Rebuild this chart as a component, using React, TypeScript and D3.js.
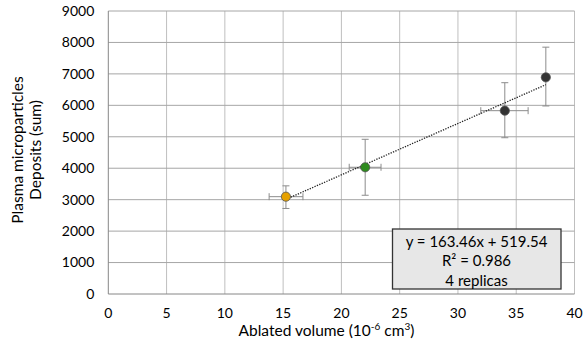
import React from "react";
import * as d3 from "d3";

const xTicks = [0, 5, 10, 15, 20, 25, 30, 35, 40];
const yTicks = [0, 1000, 2000, 3000, 4000, 5000, 6000, 7000, 8000, 9000];

const volumes = [15.24, 22.04, 34.02, 37.54];
const deposits = [3095, 4030, 5830, 6890];
const yErrLow = [2720, 3140, 4970, 5980];
const yErrHigh = [3440, 4920, 6720, 7850];
const xErrLow = [13.8, 20.67, 31.96, 37.54];
const xErrHigh = [16.7, 23.4, 36.02, 37.54];
const pointColors = ["#e6a100", "#2e8b1e", "#333333", "#333333"];

const slope = 163.46;
const intercept = 519.54;
const boxLines = ["y = 163.46x + 519.54", "R² = 0.986", "4 replicas"];

const W = 588;
const H = 341;
const M = { left: 108.3, right: 574.5, top: 11, bottom: 294 };
const FONT = "Lato, 'Open Sans', sans-serif";

export default function App() {
  const x = d3.scaleLinear().domain([0, 40]).range([M.left, M.right]);
  const y = d3.scaleLinear().domain([0, 9000]).range([M.bottom, M.top]);
  const x0 = volumes[0];
  const x1 = volumes[volumes.length - 1];
  const line = d3.line<number>().x((v) => x(v)).y((v) => y(slope * v + intercept));
  const cap = 3.5;

  return (
    <svg width={W} height={H} style={{ position: "absolute", left: 0, top: 0, background: "#fff" }}>
      {/* gridlines */}
      {xTicks.slice(1).map((t) => (
        <line key={"gx" + t} x1={x(t)} x2={x(t)} y1={M.top} y2={M.bottom} stroke="#bfbfbf" strokeWidth={1} />
      ))}
      {yTicks.slice(1).map((t) => (
        <line key={"gy" + t} x1={M.left} x2={M.right} y1={y(t)} y2={y(t)} stroke="#a6a6a6" strokeWidth={1} />
      ))}
      {/* axes */}
      <line x1={M.left} x2={M.left} y1={M.top} y2={M.bottom} stroke="#868686" strokeWidth={1} />
      <line x1={M.left} x2={M.right} y1={M.bottom} y2={M.bottom} stroke="#868686" strokeWidth={1} />
      {/* tick labels */}
      {yTicks.map((t) => (
        <text key={"ty" + t} x={M.left - 14} y={y(t)} dy="0.35em" textAnchor="end" fontFamily={FONT} fontSize={14} fill="#000">
          {t}
        </text>
      ))}
      {xTicks.map((t) => (
        <text key={"tx" + t} x={x(t)} y={M.bottom + 24} textAnchor="middle" fontFamily={FONT} fontSize={14} fill="#000">
          {t}
        </text>
      ))}
      {/* axis titles */}
      <text x={326.5} y={336} textAnchor="middle" fontFamily={FONT} fontSize={15.5} fill="#000">
        Ablated volume (10
        <tspan dy={-6} fontSize={10}>-6</tspan>
        <tspan dy={6}> cm</tspan>
        <tspan dy={-6} fontSize={10}>3</tspan>
        <tspan dy={6}>)</tspan>
      </text>
      <g transform="translate(23,150) rotate(-90)">
        <text x={0} y={0} textAnchor="middle" fontFamily={FONT} fontSize={15.5} fill="#000">
          Plasma microparticles
        </text>
        <text x={0} y={18} textAnchor="middle" fontFamily={FONT} fontSize={15.5} fill="#000">
          Deposits (sum)
        </text>
      </g>
      {/* error bars */}
      {volumes.map((v, i) => (
        <g key={"eb" + i} stroke="#8c8c8c" strokeWidth={1}>
          <line x1={x(v)} x2={x(v)} y1={y(yErrLow[i])} y2={y(yErrHigh[i])} />
          <line x1={x(v) - cap} x2={x(v) + cap} y1={y(yErrLow[i])} y2={y(yErrLow[i])} />
          <line x1={x(v) - cap} x2={x(v) + cap} y1={y(yErrHigh[i])} y2={y(yErrHigh[i])} />
          {xErrHigh[i] > xErrLow[i] && (
            <>
              <line x1={x(xErrLow[i])} x2={x(xErrHigh[i])} y1={y(deposits[i])} y2={y(deposits[i])} />
              <line x1={x(xErrLow[i])} x2={x(xErrLow[i])} y1={y(deposits[i]) - cap} y2={y(deposits[i]) + cap} />
              <line x1={x(xErrHigh[i])} x2={x(xErrHigh[i])} y1={y(deposits[i]) - cap} y2={y(deposits[i]) + cap} />
            </>
          )}
        </g>
      ))}
      {/* trendline */}
      <path d={line([x0, x1]) || ""} fill="none" stroke="#222" strokeWidth={1.3} strokeDasharray="1.3 1.3" />
      {/* points */}
      {volumes.map((v, i) => (
        <circle key={"pt" + i} cx={x(v)} cy={y(deposits[i])} r={4.6} fill={pointColors[i]} stroke="#555" strokeWidth={0.8} />
      ))}
      {/* annotation box */}
      <rect x={392.5} y={229} width={168.5} height={60} fill="#e7e7e7" stroke="#333" strokeWidth={1.3} />
      {boxLines.map((s, i) => (
        <text key={"bl" + i} x={476.5} y={246.5 + i * 19.5} textAnchor="middle" fontFamily={FONT} fontSize={15} fill="#000">
          {s}
        </text>
      ))}
    </svg>
  );
}
